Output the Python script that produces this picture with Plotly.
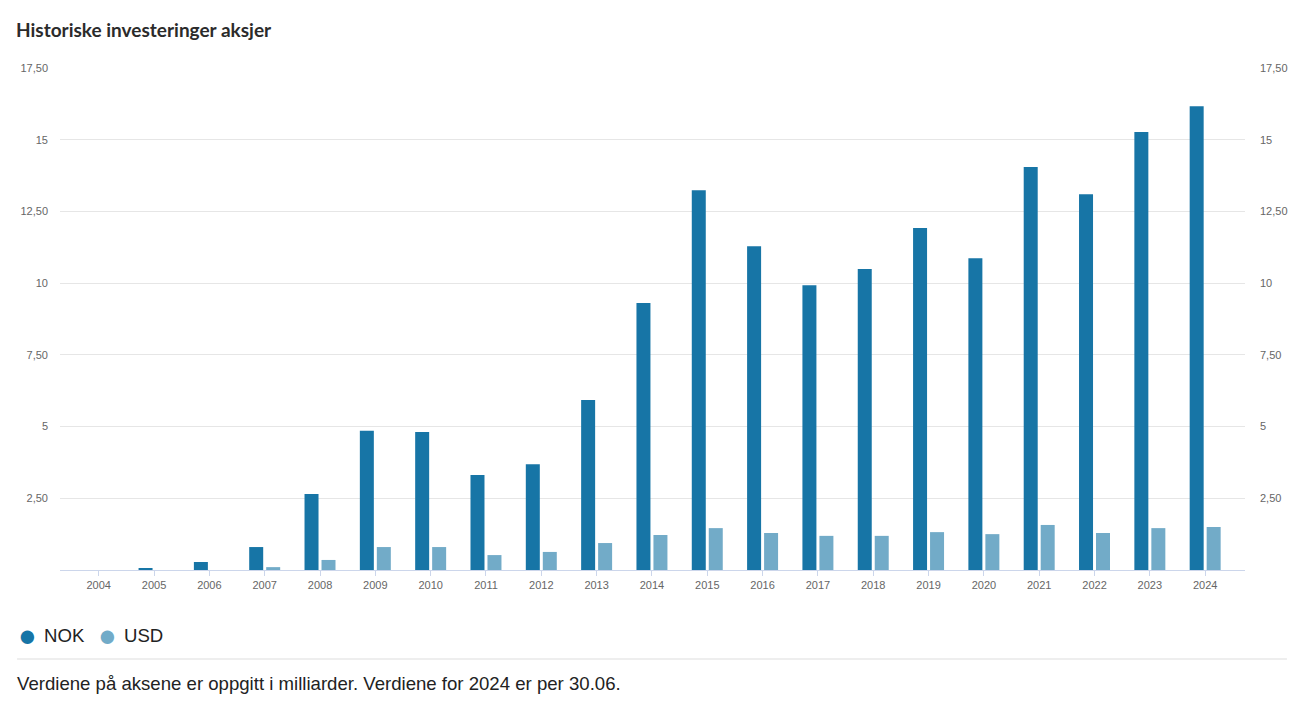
import plotly.graph_objects as go

years = [str(y) for y in range(2004, 2025)]
nok = [0.0, 0.07, 0.28, 0.80, 2.65, 4.85, 4.81, 3.31, 3.69, 5.93, 9.31, 13.24,
       11.29, 9.93, 10.49, 11.92, 10.87, 14.05, 13.10, 15.27, 16.17]
usd = [0.0, 0.0, 0.0, 0.10, 0.35, 0.80, 0.80, 0.52, 0.63, 0.94, 1.22, 1.46,
       1.29, 1.19, 1.19, 1.32, 1.25, 1.57, 1.29, 1.46, 1.50]
tick_vals = [2.5, 5, 7.5, 10, 12.5, 15, 17.5]
tick_text = ["2,50", "5", "7,50", "10", "12,50", "15", "17,50"]

NOK_COLOR = "#1775a6"
USD_COLOR = "#72abc8"

# page offset (body margin) compensation
OFF = 8
PL, PR, PT, PB = 58, 1245, 68, 570  # plot area in page pixels

fig = go.Figure()
fig.add_trace(go.Bar(x=years, y=nok, name="NOK", marker_color=NOK_COLOR,
                     marker_line_width=0, showlegend=False))
fig.add_trace(go.Bar(x=years, y=usd, name="USD", marker_color=USD_COLOR,
                     marker_line_width=0, showlegend=False))
fig.add_trace(go.Scatter(x=years, y=nok, yaxis="y2", mode="markers",
                         marker_opacity=0, showlegend=False, hoverinfo="skip"))

tickfont = dict(family="Liberation Sans, Arial, sans-serif", size=11, color="#666666")

fig.update_layout(
    width=1306, height=702,
    margin=dict(l=PL - OFF, r=1306 - (PR - OFF), t=PT - OFF, b=702 - (PB - OFF)),
    paper_bgcolor="white", plot_bgcolor="white",
    barmode="group", bargap=0.386, bargroupgap=0.176,
    xaxis=dict(type="category", range=[-0.7, 20.72], showgrid=False,
               showline=True, linecolor="#ccd6eb", linewidth=1,
               ticks="outside", ticklen=5, tickcolor="#ccd6eb",
               tickfont=tickfont, zeroline=False, fixedrange=True),
    yaxis=dict(range=[0, 17.5], tickvals=tick_vals, ticktext=tick_text,
               showgrid=True, gridcolor="#e6e6e6", gridwidth=1,
               zeroline=False, showline=False, ticks="",
               tickfont=tickfont, ticklabelstandoff=11),
    yaxis2=dict(range=[0, 17.5], tickvals=tick_vals, ticktext=tick_text,
                overlaying="y", side="right", showgrid=False, zeroline=False,
                showline=False, ticks="", tickfont=tickfont,
                ticklabelstandoff=14),
    showlegend=False,
    font=dict(family="Liberation Sans, Arial, sans-serif"),
)

W = PR - PL
H = PB - PT


def px_x(px):
    return (px - PL) / W


def px_y(py):
    return (PB - py) / H


# Title
fig.add_annotation(text="<b>Historiske investeringer aksjer</b>", xref="paper", yref="paper",
                   x=px_x(12), y=px_y(29), xanchor="left", yanchor="middle",
                   showarrow=False, font=dict(family="Lato, sans-serif", size=19, color="#2b2b2b"))

legend_font = dict(family="Liberation Sans Narrow, Liberation Sans, sans-serif", size=18.6, color="#222222")

fig.add_annotation(text="●", xref="paper", yref="paper", x=px_x(25), y=px_y(636),
                   xanchor="center", yanchor="middle", showarrow=False,
                   font=dict(size=31, color=NOK_COLOR))
fig.add_annotation(text="NOK", xref="paper", yref="paper", x=px_x(39.5), y=px_y(636),
                   xanchor="left", yanchor="middle", showarrow=False, font=legend_font)
fig.add_annotation(text="●", xref="paper", yref="paper", x=px_x(106), y=px_y(636),
                   xanchor="center", yanchor="middle", showarrow=False,
                   font=dict(size=31, color=USD_COLOR))
fig.add_annotation(text="USD", xref="paper", yref="paper", x=px_x(120), y=px_y(636),
                   xanchor="left", yanchor="middle", showarrow=False, font=legend_font)

# separator
fig.add_shape(type="line", xref="paper", yref="paper", x0=px_x(15), x1=px_x(1287),
              y0=px_y(659), y1=px_y(659), line=dict(color="#eeeeee", width=2))

# footer
fig.add_annotation(text="Verdiene på aksene er oppgitt i milliarder. Verdiene for 2024 er per 30.06.",
                   xref="paper", yref="paper", x=px_x(13), y=px_y(683),
                   xanchor="left", yanchor="middle", showarrow=False, font=legend_font)

fig.write_html("out.html")
